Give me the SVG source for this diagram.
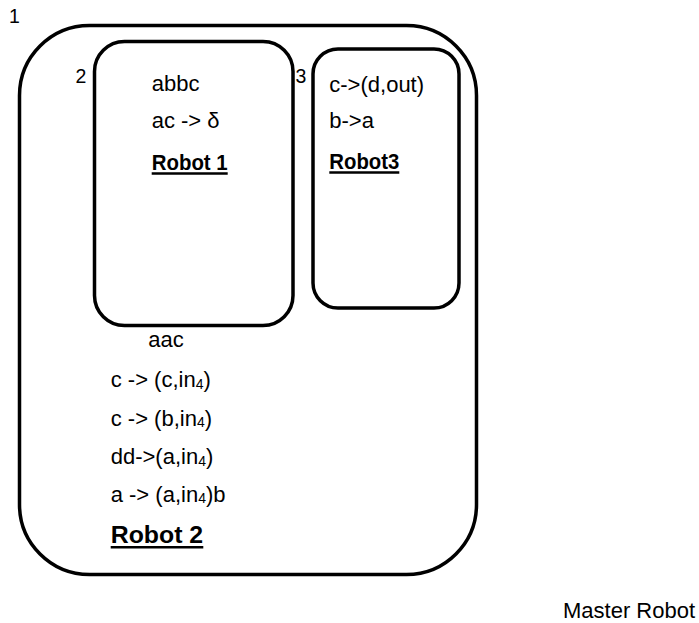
<svg xmlns="http://www.w3.org/2000/svg" width="699" height="623" viewBox="0 0 699 623">
<style>
.box{fill:none;stroke:#000;stroke-width:3.5}
.ul{stroke:#000;stroke-width:2.5}
text{font-family:"Liberation Sans",Arial,sans-serif;fill:#000}
.t{font-size:22px}
.n{font-size:19.5px}
.b{font-weight:bold}
.s{font-size:14px}
</style>
<rect width="699" height="623" fill="#fff"/>
<g id="master">
<rect class="box" x="19.5" y="25.5" width="457" height="549" rx="70" ry="70"/>
<text class="n" x="9" y="23">1</text>
<text class="t" x="563" y="618">Master Robot</text>
</g>
<g id="robot2">
<text class="t" x="148.3" y="347">aac</text>
<text class="t" x="110.7" y="387">c -&gt; (c,in<tspan class="s" dy="1.5">4</tspan><tspan dy="-1.5">)</tspan></text>
<text class="t" x="110.7" y="425.7">c -&gt; (b,in<tspan class="s" dy="1.5">4</tspan><tspan dy="-1.5">)</tspan></text>
<text class="t" x="110.7" y="464">dd-&gt;(a,in<tspan class="s" dy="1.5">4</tspan><tspan dy="-1.5">)</tspan></text>
<text class="t" x="110.7" y="501.7">a -&gt; (a,in<tspan class="s" dy="1.5">4</tspan><tspan dy="-1.5">)b</tspan></text>
<text class="b" x="110.7" y="542.7" font-size="24" textLength="92.5" lengthAdjust="spacingAndGlyphs">Robot 2</text>
<line class="ul" x1="110.7" y1="547.3" x2="203.3" y2="547.3" stroke-width="3"/>
</g>
<g id="robot1">
<rect class="box" x="94.5" y="41.5" width="198.5" height="284" rx="30" ry="30"/>
<text class="n" x="75.5" y="83">2</text>
<text class="t" x="151.7" y="91">abbc</text>
<text class="t" x="151.7" y="128">ac -&gt; δ</text>
<text class="b" x="151.7" y="170" font-size="22" textLength="76" lengthAdjust="spacingAndGlyphs">Robot 1</text>
<line class="ul" x1="151.7" y1="173.5" x2="227.7" y2="173.5"/>
</g>
<g id="robot3">
<rect class="box" x="313" y="49" width="146" height="259" rx="25" ry="25"/>
<text class="n" x="295.5" y="83">3</text>
<text class="t" x="329.3" y="91.5">c-&gt;(d,out)</text>
<text class="t" x="329.3" y="128">b-&gt;a</text>
<text class="b" x="329.3" y="168.5" font-size="22" textLength="70" lengthAdjust="spacingAndGlyphs">Robot3</text>
<line class="ul" x1="329.3" y1="172.5" x2="399.3" y2="172.5"/>
</g>
<g id="connectors"></g>
</svg>
